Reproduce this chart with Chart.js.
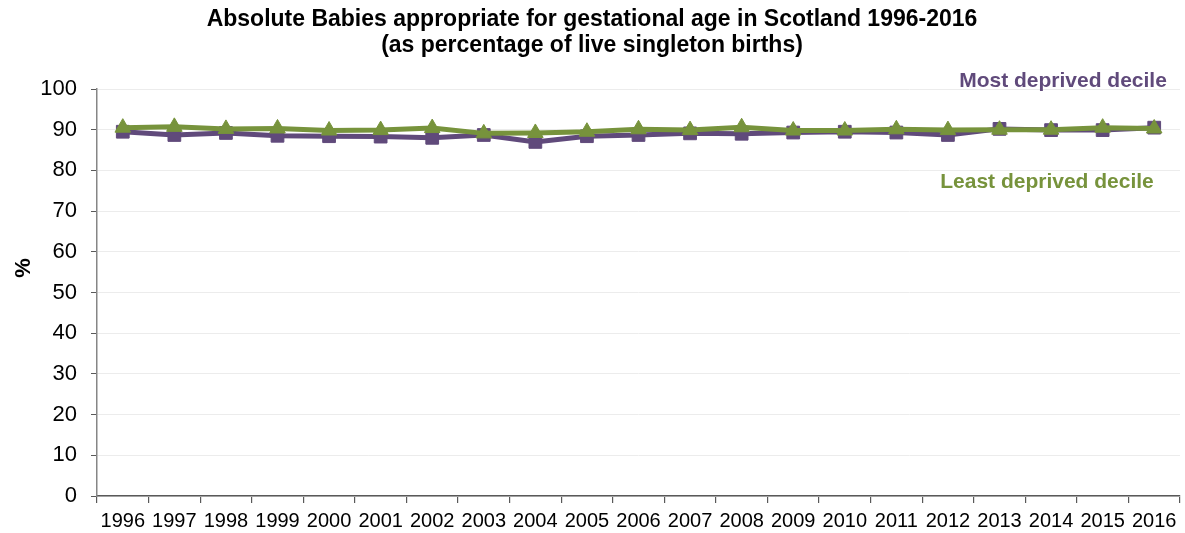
<!DOCTYPE html>
<html>
<head>
<meta charset="utf-8">
<script src="https://cdn.jsdelivr.net/npm/chart.js@4.4.1/dist/chart.umd.min.js"></script>
<style>
  html, body { margin: 0; padding: 0; background: #ffffff; }
  #wrap { width: 1185px; height: 533px; }
</style>
</head>
<body>
<div id="wrap"><canvas id="chart" width="1185" height="533"></canvas></div>
<script>
// Years on the category axis
const years = ['1996','1997','1998','1999','2000','2001','2002','2003','2004','2005','2006',
               '2007','2008','2009','2010','2011','2012','2013','2014','2015','2016'];

// Babies appropriate for gestational age, % of live singleton births
const mostDeprived = [89.5, 88.7, 89.2, 88.5, 88.4, 88.3, 88.0, 88.7, 87.0, 88.4, 88.7,
                      89.1, 89.0, 89.3, 89.5, 89.3, 88.7, 90.2, 89.9, 89.9, 90.5];
const leastDeprived = [90.5, 90.7, 90.2, 90.3, 89.8, 89.9, 90.4, 89.1, 89.2, 89.5, 90.1,
                       89.9, 90.6, 89.8, 89.8, 90.1, 89.9, 90.0, 90.0, 90.5, 90.3];

// Value axis ticks
const yTicks = [0, 10, 20, 30, 40, 50, 60, 70, 80, 90, 100];

const titleLines = ['Absolute Babies appropriate for gestational age in Scotland 1996-2016',
                    '(as percentage of live singleton births)'];
const seriesNames = ['Most deprived decile', 'Least deprived decile'];

const PURPLE = '#604A7B';
const GREEN = '#77933C';
const FONT = '"Liberation Sans", Arial, sans-serif';

// Titles, rotated axis label and the in-plot series labels
const annotations = {
  id: 'annotations',
  afterDraw(chart) {
    const ctx = chart.ctx;
    const area = chart.chartArea;
    ctx.save();
    ctx.fillStyle = '#000000';
    ctx.textAlign = 'center';
    ctx.textBaseline = 'middle';
    ctx.font = 'bold 23px ' + FONT;
    ctx.fillText(titleLines[0], 592, 20);
    ctx.fillText(titleLines[1], 592, 46);

    ctx.save();
    ctx.translate(24, 268);
    ctx.rotate(-Math.PI / 2);
    ctx.font = 'bold 22px ' + FONT;
    ctx.fillText('%', 0, 0);
    ctx.restore();

    ctx.textBaseline = 'alphabetic';
    ctx.font = 'bold 21px ' + FONT;
    ctx.fillStyle = PURPLE;
    ctx.fillText(seriesNames[0], area.right - 117, 87);
    ctx.fillStyle = GREEN;
    ctx.fillText(seriesNames[1], area.right - 133, 188);
    ctx.restore();
  }
};

new Chart(document.getElementById('chart'), {
  type: 'line',
  data: {
    labels: years,
    datasets: [
      {
        label: seriesNames[0],
        data: mostDeprived,
        borderColor: PURPLE,
        backgroundColor: PURPLE,
        borderWidth: 5,
        pointStyle: 'rect',
        pointRadius: 9,
        pointBorderWidth: 1,
        pointBackgroundColor: PURPLE,
        pointBorderColor: PURPLE,
        tension: 0,
        order: 1
      },
      {
        label: seriesNames[1],
        data: leastDeprived,
        borderColor: GREEN,
        backgroundColor: GREEN,
        borderWidth: 5,
        pointStyle: 'triangle',
        pointRadius: 9,
        pointBorderWidth: 1,
        pointBackgroundColor: GREEN,
        pointBorderColor: GREEN,
        tension: 0,
        order: 0
      }
    ]
  },
  options: {
    responsive: false,
    animation: false,
    layout: { autoPadding: false, padding: { top: 89, right: 5, left: 0, bottom: 0 } },
    plugins: {
      legend: { display: false },
      title: { display: false },
      tooltip: { enabled: false }
    },
    scales: {
      x: {
        offset: true,
        grid: {
          offset: true,
          drawOnChartArea: false,
          tickLength: 7,
          tickColor: '#595959',
          lineWidth: 1.2
        },
        border: { color: '#595959', width: 1.5 },
        ticks: {
          color: '#000000',
          font: { family: FONT, size: 20 },
          padding: 6,
          maxRotation: 0,
          autoSkip: false
        },
        afterFit(scale) {
          scale.height = 37;
          scale.paddingLeft = 0;
          scale.paddingRight = 0;
        }
      },
      y: {
        min: 0,
        max: 100,
        afterBuildTicks(scale) { scale.ticks = yTicks.map(v => ({ value: v })); },
        grid: {
          color: '#ececec',
          tickColor: '#595959',
          tickLength: 6,
          lineWidth: 1
        },
        border: { color: '#868686', width: 1.5 },
        ticks: {
          color: '#000000',
          font: { family: FONT, size: 22 },
          padding: 14
        },
        afterFit(scale) {
          scale.width = 97;
          scale.paddingTop = 0;
          scale.paddingBottom = 0;
        }
      }
    }
  },
  plugins: [annotations]
});
</script>
</body>
</html>
